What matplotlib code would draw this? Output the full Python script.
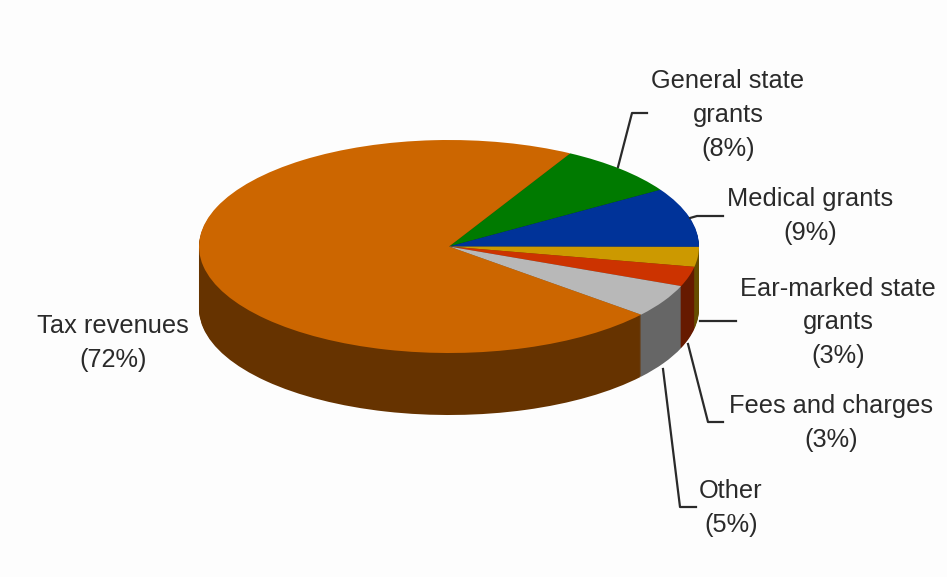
import matplotlib
matplotlib.use('Agg')
import matplotlib.pyplot as plt

# revenue shares, clockwise from the top of the pie
categories = ['General state\ngrants', 'Medical grants', 'Ear-marked state\ngrants',
              'Fees and charges', 'Other', 'Tax revenues']
shares = [8, 9, 3, 3, 5, 72]

top_colors = ['#007a00', '#003399', '#cc9900', '#cc3300', '#b8b8b8', '#cc6600']
side_colors = ['#003d00', '#001a4d', '#664d00', '#661a00', '#666666', '#663300']

W, H = 947, 577
CX, CY = 449, 246.5
RX, RY = 250, 106.5
DEPTH = 62

plt.rcParams['font.family'] = ['Liberation Sans', 'DejaVu Sans']

fig = plt.figure(figsize=(W / 100, H / 100), dpi=100, facecolor='#fdfdfd')

# pie axes: one unit is RX pixels across and RY pixels down, which flattens the circle
ax = fig.add_axes([0, 0, 1, 1])
depth_units = DEPTH / RY
for i in range(DEPTH, 0, -1):
    ax.pie(shares, colors=side_colors, startangle=61, counterclock=False,
           center=(0, -depth_units * i / DEPTH), radius=1, frame=True)
ax.pie(shares, colors=top_colors, startangle=61, counterclock=False,
       center=(0, 0), radius=1, frame=True)
ax.set_aspect('auto')
ax.set_xlim(-CX / RX, (W - CX) / RX)
ax.set_ylim(-(H - CY) / RY, CY / RY)
ax.axis('off')

# overlay in pixel coordinates for the labels and leader lines
over = fig.add_axes([0, 0, 1, 1])
over.set_xlim(0, W)
over.set_ylim(H, 0)
over.axis('off')
over.patch.set_alpha(0)

labels = [
    (728, 115, categories[0], shares[0], [(618, 167), (632, 113), (647, 113)]),
    (810, 216, categories[1], shares[1], [(690, 218), (697, 216), (723, 216)]),
    (838, 322.5, categories[2], shares[2], [(700, 321), (736, 321)]),
    (831, 423, categories[3], shares[3], [(688, 344), (708, 422), (723, 422)]),
    (731, 508, categories[4], shares[4], [(663, 369), (680, 507), (696, 507)]),
    (113, 343, categories[5], shares[5], None),
]
for x, y, name, share, leader in labels:
    over.text(x, y, f'{name}\n({share}%)', ha='center', va='center',
              fontsize=18.3, color='#2a2a2a', linespacing=1.52)
    if leader:
        over.plot([p[0] for p in leader], [p[1] for p in leader], color='#2a2a2a', lw=1.6)

fig.savefig('out.png', dpi=100, facecolor=fig.get_facecolor())
